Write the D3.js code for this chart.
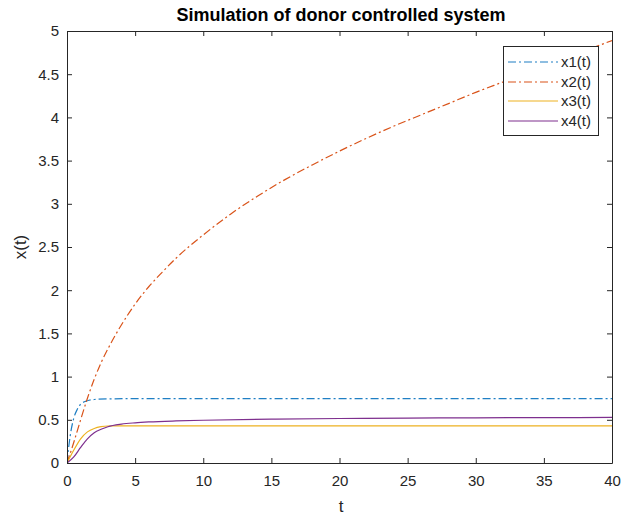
<!DOCTYPE html>
<html>
<head>
<meta charset="utf-8">
<script src="https://cdn.jsdelivr.net/npm/d3@7"></script>
<style>
  html, body { margin: 0; padding: 0; background: #fff; }
  svg { display: block; font-family: "Liberation Sans", Arial, sans-serif; }
</style>
</head>
<body>
<svg id="chart" width="625" height="521"></svg>
<script>
const titleText = "Simulation of donor controlled system";
const xLabel = "t";
const yLabel = "x(t)";
const xTicks = [0, 5, 10, 15, 20, 25, 30, 35, 40];
const yTicks = [0, 0.5, 1, 1.5, 2, 2.5, 3, 3.5, 4, 4.5, 5];
const seriesNames = ["x1(t)", "x2(t)", "x3(t)", "x4(t)"];

const t1 = [0, 0.1, 0.25, 0.5, 0.75, 1, 1.5, 2, 3, 5, 10, 20, 30, 40];
const x1 = [0, 0.15, 0.33, 0.52, 0.62, 0.68, 0.72, 0.735, 0.742, 0.745, 0.745, 0.745, 0.745, 0.745];

const t2 = [0, 0.5, 1, 1.5, 2, 2.5, 3, 4, 5, 6, 7, 8, 10, 12, 14, 16, 18, 20, 22, 24, 26, 28, 30, 32, 34, 36, 38, 40];
const x2 = [0, 0.24, 0.5, 0.75, 0.97, 1.16, 1.32, 1.6, 1.84, 2.04, 2.21, 2.37, 2.64, 2.88, 3.09, 3.28, 3.45, 3.61, 3.76, 3.9, 4.03, 4.16, 4.29, 4.41, 4.53, 4.65, 4.77, 4.89];

const t3 = [0, 0.5, 1, 1.5, 2, 2.5, 3, 4, 10, 20, 30, 40];
const x3 = [0, 0.15, 0.28, 0.36, 0.40, 0.42, 0.428, 0.43, 0.43, 0.43, 0.43, 0.43];

const t4 = [0, 0.5, 1, 1.5, 2, 2.5, 3, 4, 5, 6, 8, 10, 15, 20, 25, 30, 35, 40];
const x4 = [0, 0.07, 0.18, 0.28, 0.35, 0.39, 0.42, 0.45, 0.465, 0.475, 0.487, 0.495, 0.507, 0.515, 0.52, 0.523, 0.525, 0.527];

const colors = ["#1F7FC4", "#D95319", "#EDB120", "#7E2F8E"];
const dashes = ["8,3,2,3", "8,3,2,3", null, null];

const series = [
  { name: seriesNames[0], t: t1, v: x1 },
  { name: seriesNames[1], t: t2, v: x2 },
  { name: seriesNames[2], t: t3, v: x3 },
  { name: seriesNames[3], t: t4, v: x4 }
];

const L = 67, R = 612, T = 31, B = 463;
const svg = d3.select("#chart");
const x = d3.scaleLinear().domain([0, 40]).range([L, R]);
const y = d3.scaleLinear().domain([0, 5]).range([B, T]);
const axisColor = "#262626";

svg.append("rect").attr("width", 625).attr("height", 521).attr("fill", "#fff");

svg.append("defs").append("clipPath").attr("id", "clip")
  .append("rect").attr("x", L).attr("y", T).attr("width", R - L).attr("height", B - T);

const line = d3.line().curve(d3.curveMonotoneX)
  .x(d => x(d[0])).y(d => y(d[1]));

const g = svg.append("g").attr("clip-path", "url(#clip)");
series.forEach((s, i) => {
  const pts = s.t.map((tt, j) => [tt, s.v[j]]);
  g.append("path").datum(pts)
    .attr("d", line)
    .attr("fill", "none")
    .attr("stroke", colors[i])
    .attr("stroke-width", 1.2)
    .attr("stroke-dasharray", dashes[i]);
});

const ax = svg.append("g").attr("transform", `translate(0,${B})`)
  .call(d3.axisBottom(x).tickValues(xTicks).tickSizeInner(-5).tickSizeOuter(0).tickPadding(10).tickFormat(d3.format("d")));
const axT = svg.append("g").attr("transform", `translate(0,${T})`)
  .call(d3.axisTop(x).tickValues(xTicks).tickSizeInner(-5).tickSizeOuter(0).tickFormat(""));
const ay = svg.append("g").attr("transform", `translate(${L},0)`)
  .call(d3.axisLeft(y).tickValues(yTicks).tickSizeInner(-5).tickSizeOuter(0).tickPadding(8).tickFormat(d => d));
const ayR = svg.append("g").attr("transform", `translate(${R},0)`)
  .call(d3.axisRight(y).tickValues(yTicks).tickSizeInner(-5).tickSizeOuter(0).tickFormat(""));

[ax, axT, ay, ayR].forEach(a => {
  a.selectAll("path").attr("stroke", axisColor).attr("stroke-width", 1);
  a.selectAll("line").attr("stroke", axisColor).attr("stroke-width", 1);
  a.selectAll("text").attr("fill", axisColor).style("font-size", "15px")
    .style("font-family", "'Liberation Sans', Arial, sans-serif");
});
ax.selectAll("text").attr("dy", "0.85em");

svg.append("text").attr("x", 341).attr("y", 21).attr("text-anchor", "middle")
  .attr("fill", "#000").style("font-weight", "bold").style("font-size", "18px")
  .text(titleText);
svg.append("text").attr("x", 341).attr("y", 512).attr("text-anchor", "middle")
  .attr("fill", axisColor).style("font-size", "17px").text(xLabel);
svg.append("text").attr("transform", "translate(26,247) rotate(-90)")
  .attr("text-anchor", "middle").attr("fill", axisColor).style("font-size", "17px").text(yLabel);

const lg = svg.append("g");
lg.append("rect").attr("x", 503.5).attr("y", 46.5).attr("width", 95).attr("height", 89)
  .attr("fill", "#fff").attr("stroke", axisColor).attr("stroke-width", 1);
const rowY = [62, 82, 101, 121];
series.forEach((s, i) => {
  lg.append("line").attr("x1", 508).attr("x2", 558).attr("y1", rowY[i]).attr("y2", rowY[i])
    .attr("stroke", colors[i]).attr("stroke-width", 1.2)
    .attr("stroke-dasharray", dashes[i]);
  lg.append("text").attr("x", 561).attr("y", rowY[i]).attr("dy", "0.35em")
    .attr("fill", axisColor).style("font-size", "15px").text(s.name);
});
</script>
</body>
</html>
